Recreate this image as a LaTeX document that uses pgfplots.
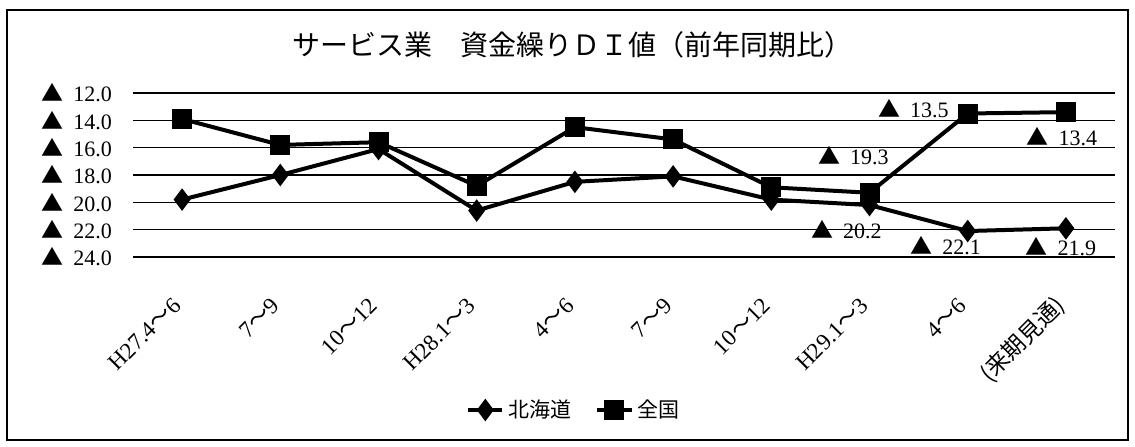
\documentclass[border=0pt]{standalone}
\usepackage{fontspec}
\usepackage{pgfplots}
\pgfplotsset{compat=1.18}
\setmainfont{Liberation Serif}
\newfontfamily\cjk{Noto Sans CJK JP}
\newcommand{\tri}{{\cjk ▲}\hspace{0.45em}}
\newcommand{\wave}{{\cjk ～}}

\begin{document}
\begin{tikzpicture}
\useasboundingbox (0,0) rectangle (567.5pt,223pt);
\draw[line width=0.6pt] (3.5pt,3pt) rectangle (564pt,218pt);
\node[font=\cjk\fontsize{14}{16}\selectfont] at (286pt,200.5pt) {サービス業　資金繰りＤＩ値（前年同期比）};
\begin{axis}[
    at={(66.5pt,94.5pt)}, anchor=south west,
    scale only axis, width=491pt, height=82pt,
    xmin=-0.5, xmax=9.5, ymin=-24, ymax=-12,
    clip=false,
    axis line style={draw=none},
    major tick length=0pt,
    ymajorgrids,
    grid style={black, line width=0.8pt},
    font=\fontsize{11}{13}\selectfont,
    ytick={-24,-22,...,-12},
    yticklabels={\tri 24.0, \tri 22.0, \tri 20.0, \tri 18.0, \tri 16.0, \tri 14.0, \tri 12.0},
    yticklabel shift=7pt,
    xtick={0,...,9},
    xticklabels={H27.4\wave6, 7\wave9, 10\wave12, H28.1\wave3, 4\wave6, 7\wave9, 10\wave12, H29.1\wave3, 4\wave6, {\cjk (来期見通)}},
    xticklabel style={rotate=45, anchor=east, font=\fontsize{11.5}{13}\selectfont},
    xticklabel shift=20pt,
    legend style={at={(0.45,-0.933)}, anchor=center, legend columns=-1, draw=none,
        font=\cjk\fontsize{10.5}{12}\selectfont,
        /tikz/every even column/.append style={column sep=10pt}},
]
%% Hokkaido
\addplot[black, line width=2pt, mark=diamond*, mark size=4pt] coordinates {
    (0,-19.8) (1,-18.0) (2,-16.1) (3,-20.6) (4,-18.5)
    (5,-18.1) (6,-19.8) (7,-20.2) (8,-22.1) (9,-21.9)
};
\addlegendentry{北海道}
%% Japan overall
\addplot[black, line width=2pt, mark=square*, mark size=4pt] coordinates {
    (0,-13.9) (1,-15.8) (2,-15.6) (3,-18.8) (4,-14.5)
    (5,-15.4) (6,-18.9) (7,-19.3) (8,-13.5) (9,-13.4)
};
\addlegendentry{全国}
\node[anchor=east, xshift=-6pt, yshift=2.5pt] at (axis cs:8,-13.5) {\tri 13.5};
\node[xshift=-2pt, yshift=-12pt] at (axis cs:9,-13.4) {\tri 13.4};
\node[xshift=-8pt, yshift=18.5pt] at (axis cs:7,-19.3) {\tri 19.3};
\node[xshift=-11.5pt, yshift=-12pt] at (axis cs:7,-20.2) {\tri 20.2};
\node[xshift=-11pt, yshift=-7.5pt] at (axis cs:8,-22.1) {\tri 22.1};
\node[xshift=-2.5pt, yshift=-9pt] at (axis cs:9,-21.9) {\tri 21.9};
\end{axis}
\end{tikzpicture}
\end{document}
